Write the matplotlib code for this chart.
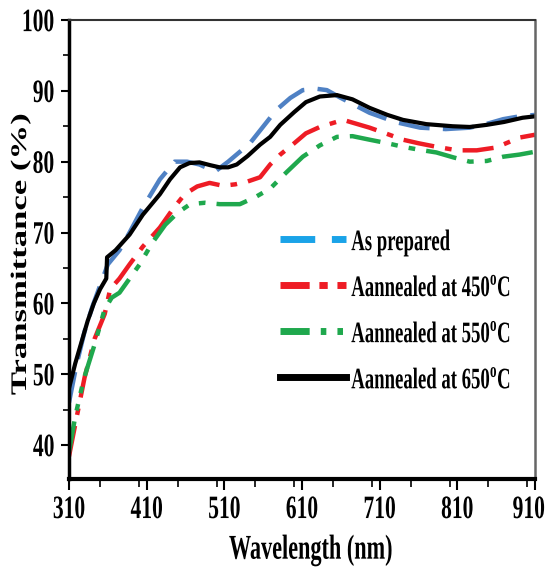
import matplotlib
matplotlib.use("Agg")
import matplotlib.pyplot as plt
from matplotlib.ticker import MultipleLocator, FixedLocator
from matplotlib.patheffects import AbstractPathEffect
from matplotlib.transforms import Affine2D
from matplotlib.lines import Line2D

# ---- data ----
wl_as = [310, 320, 330, 340, 350, 360, 375, 388, 405, 427, 446, 462, 478, 498, 515, 543, 577, 595, 611, 628, 642, 660, 697, 730, 762, 795, 826, 850, 869, 890, 910]
t_as = [46.0, 51.5, 56.0, 59.5, 62.5, 65.5, 67.5, 70.0, 73.5, 77.5, 80.0, 80.0, 79.6, 78.6, 80.0, 82.6, 87.3, 89.0, 90.1, 90.3, 90.1, 89.0, 86.9, 85.6, 84.8, 84.6, 84.8, 85.4, 86.0, 86.4, 86.6]

wl_450 = [310, 320, 330, 343, 356, 363, 375, 388, 405, 427, 445, 459, 475, 491, 508, 524, 540, 556, 569, 582, 600, 615, 633, 663, 697, 720, 740, 760, 783, 810, 835, 860, 890, 910]
t_450 = [38.4, 44.0, 49.5, 55.0, 58.5, 62.0, 63.5, 65.5, 68.0, 70.7, 73.5, 75.4, 76.5, 77.0, 76.6, 76.8, 77.2, 77.8, 79.6, 81.0, 82.6, 84.0, 84.9, 85.9, 84.8, 83.9, 83.1, 82.6, 82.1, 81.6, 81.6, 82.0, 83.4, 83.8]

wl_550 = [310, 318, 329, 343, 356, 365, 375, 388, 401, 417, 434, 450, 466, 485, 504, 530, 550, 569, 590, 611, 633, 655, 675, 697, 720, 740, 760, 783, 805, 826, 848, 869, 890, 910]
t_550 = [39.0, 44.0, 49.3, 54.2, 59.2, 60.8, 61.5, 63.5, 65.5, 68.5, 71.1, 72.8, 74.0, 74.2, 74.0, 74.0, 75.0, 76.2, 78.5, 80.7, 82.3, 83.5, 83.6, 83.1, 82.6, 82.1, 81.7, 81.3, 80.6, 80.0, 80.1, 80.7, 81.0, 81.4]

wl_650 = [310, 318, 326, 334, 342, 350, 358, 359, 370, 388, 405, 427, 440, 453, 465, 478, 492, 504, 515, 526, 540, 556, 569, 582, 600, 615, 633, 655, 675, 697, 720, 740, 770, 804, 826, 848, 870, 894, 910]
t_650 = [48.0, 51.5, 54.5, 57.5, 60.0, 62.0, 63.5, 66.5, 67.5, 69.7, 72.5, 75.4, 77.5, 79.2, 79.8, 79.9, 79.5, 79.2, 79.2, 79.6, 80.8, 82.4, 83.5, 85.2, 87.0, 88.4, 89.2, 89.4, 88.8, 87.6, 86.6, 85.9, 85.3, 85.0, 84.9, 85.2, 85.6, 86.2, 86.4]

labels = ["As prepared",
          r"Aannealed at 450$^{\mathrm{o}}$C",
          r"Aannealed at 550$^{\mathrm{o}}$C",
          r"Aannealed at 650$^{\mathrm{o}}$C"]

xticks = [310, 410, 510, 610, 710, 810, 910]
yticks = [40, 50, 60, 70, 80, 90, 100]


class Stretch(AbstractPathEffect):
    """Draw text taller than its layout size, imitating a condensed Times face."""
    def __init__(self, sx=1.0, sy=1.0, ax_='center', ay='center', dx=0.0, dy=0.0):
        super().__init__()
        self.sx, self.sy, self.ax_, self.ay, self.dx, self.dy = sx, sy, ax_, ay, dx, dy

    def draw_path(self, renderer, gc, tpath, affine, rgbFace=None):
        ext = tpath.get_extents(affine)
        cx = {'left': ext.x0, 'right': ext.x1}.get(self.ax_, 0.5 * (ext.x0 + ext.x1))
        if self.ay == 'baseline':
            cy = affine.transform((0, 0))[1]
        elif self.ay == 'top':
            cy = ext.y1
        elif self.ay == 'bottom':
            cy = ext.y0
        else:
            cy = 0.5 * (ext.y0 + ext.y1)
        t = affine + Affine2D().translate(-cx, -cy).scale(self.sx, self.sy).translate(cx + self.dx, cy + self.dy)
        renderer.draw_path(gc, tpath, t, rgbFace)


plt.rcParams['font.family'] = ['Liberation Serif', 'DejaVu Serif']
plt.rcParams['font.weight'] = 'bold'
plt.rcParams['mathtext.fontset'] = 'custom'
plt.rcParams['mathtext.rm'] = 'Liberation Serif:bold'
plt.rcParams['mathtext.bf'] = 'Liberation Serif:bold'

fig = plt.figure(figsize=(5.46, 5.67), dpi=100)
ax = fig.add_axes([69 / 546, 1 - 479 / 567, 466 / 546, 459 / 567])

ax.plot(wl_as, t_as, color='#4f81c4', lw=3.2, dashes=(7, 3), label=labels[0])
ax.plot(wl_450, t_450, color='#ee1c25', lw=3.2, dashes=(7, 2.5, 1.5, 2.5), label=labels[1])
ax.plot(wl_550, t_550, color='#1fa84d', lw=3.2, dashes=(7, 2.5, 1.5, 2.5, 1.5, 2.5), label=labels[2])
ax.plot(wl_650, t_650, color='black', lw=3.0, label=labels[3])

ax.set_xlim(310, 910)
ax.set_ylim(35.2, 100)
ax.xaxis.set_major_locator(FixedLocator(xticks))
ax.xaxis.set_minor_locator(MultipleLocator(50))
ax.yaxis.set_major_locator(FixedLocator(yticks))
ax.yaxis.set_minor_locator(MultipleLocator(5))

TICK_FS = 15.5
TICK_SY = 1.515
ax.tick_params(axis='x', which='major', direction='out', length=8, width=1.5, labelsize=TICK_FS, pad=4)
ax.tick_params(axis='x', which='minor', direction='out', length=5.5, width=1.2)
ax.tick_params(axis='y', which='major', direction='out', length=5.5, width=1.5, labelsize=TICK_FS, pad=5)
ax.tick_params(axis='y', which='minor', direction='out', length=4, width=1.2)

fig.canvas.draw()
xl_labels = ax.get_xticklabels()
for i, lab in enumerate(xl_labels):
    lab.set_fontweight('bold')
    if i == len(xl_labels) - 1:
        lab.set_ha('right')
        lab.set_path_effects([Stretch(1.0, TICK_SY, 'center', 'top', dx=10)])
    else:
        lab.set_path_effects([Stretch(1.0, TICK_SY, 'center', 'top')])
for lab in ax.get_yticklabels():
    lab.set_fontweight('bold')
    lab.set_path_effects([Stretch(1.0, TICK_SY, 'right', 'center')])

ax.spines['left'].set_linewidth(2.5)
ax.spines['bottom'].set_linewidth(3)
ax.spines['top'].set_linewidth(1.5)
ax.spines['top'].set_color('#333333')
ax.spines['right'].set_linewidth(1.8)
ax.spines['right'].set_color('#666666')

LAB_FS = 16
LAB_S = 1.5625
xl = ax.set_xlabel("Wavelength (nm)", fontsize=LAB_FS, fontweight='bold')
ax.xaxis.set_label_coords((311 - 69) / 466, (479 - 535) / 459)
xl.set_path_effects([Stretch(1.0, LAB_S, 'center', 'top')])

yl = ax.set_ylabel("Transmittance (%)", fontsize=LAB_FS, fontweight='bold')
yl.set_va('center')
ax.yaxis.set_label_coords((21 - 69) / 466, 0.49)
yl.set_path_effects([Stretch(1.0, LAB_S, 'center', 'center')])

handles = [
    Line2D([], [], color='#1aa3e8', lw=5, dashes=(5, 2.4)),
    Line2D([], [], color='#ee1c25', lw=5, dashes=(4.2, 1.4, 1.2, 1.4)),
    Line2D([], [], color='#1fa84d', lw=5, dashes=(4.2, 1.6, 0.8, 1.6, 0.8, 1.6)),
    Line2D([], [], color='black', lw=5),
]
LEG_FS = 13.5
leg = ax.legend(handles, labels, loc='upper left',
                bbox_to_anchor=((280 - 69) / 466, (479 - 232) / 459),
                frameon=False, fontsize=LEG_FS, handlelength=3.5, handletextpad=0.3,
                labelspacing=1.5, borderaxespad=0, borderpad=0)
for t in leg.get_texts():
    t.set_path_effects([Stretch(1.0, 1.587, 'left', 'baseline', dy=-5)])

fig.savefig("out.png", dpi=100)
